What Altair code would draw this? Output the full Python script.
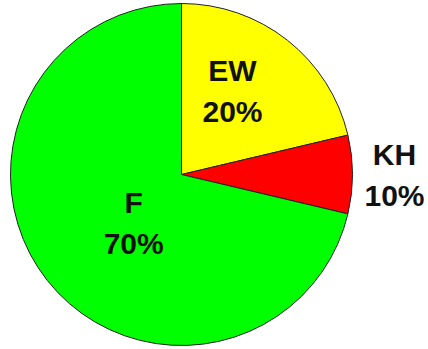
import math
import altair as alt
import pandas as pd

categories = ["EW", "KH", "F"]
shares = [21.3, 7.4, 71.3]
pct_labels = ["20%", "10%", "70%"]
slice_order = [0, 1, 2]
colors = ["#FFFF00", "#FF0000", "#00FF00"]

df = pd.DataFrame({"cat": categories, "share": shares, "pct": pct_labels, "order": slice_order})

pie = alt.Chart(df).mark_arc(radius=171, stroke="#222222", strokeWidth=1).encode(
    theta=alt.Theta("share:Q", stack=True),
    order=alt.Order("order:Q"),
    color=alt.Color("cat:N", scale=alt.Scale(domain=categories, range=colors), legend=None),
)

# label placement per category: (radius px, angular offset degrees)
placement = {"EW": (98, -7.0), "KH": (213, 0.0), "F": (68, -7.0)}

layers = [pie]
for c in categories:
    r, off = placement[c]
    t = (
        alt.Chart(df)
        .transform_window(cum="sum(share)", sort=[alt.SortField("order")], frame=[None, 0])
        .transform_calculate(mid="datum.cum - datum.share / 2", label="datum.cat + '\\n' + datum.pct")
        .transform_filter(alt.datum.cat == c)
        .mark_text(
            radius=r,
            thetaOffset=math.radians(off),
            dy=-19,
            lineBreak="\n",
            lineHeight=41,
            font="Liberation Sans",
            fontWeight="bold",
            fontSize=30,
            color="#111111",
            align="center",
            baseline="middle",
        )
        .encode(
            theta=alt.Theta("mid:Q", scale=alt.Scale(domain=[0, 100], range=[0, 2 * math.pi])),
            text="label:N",
        )
    )
    layers.append(t)

chart = (
    alt.layer(*layers)
    .resolve_scale(theta="independent")
    .properties(
        width=363,
        height=349,
        padding={"left": 0, "top": 0, "right": 65, "bottom": 0},
        autosize=alt.AutoSizeParams(type="none"),
    )
    .configure_view(stroke=None)
    .configure(background="white")
)

chart.save("out.html", embed_options={"renderer": "svg", "actions": False})
